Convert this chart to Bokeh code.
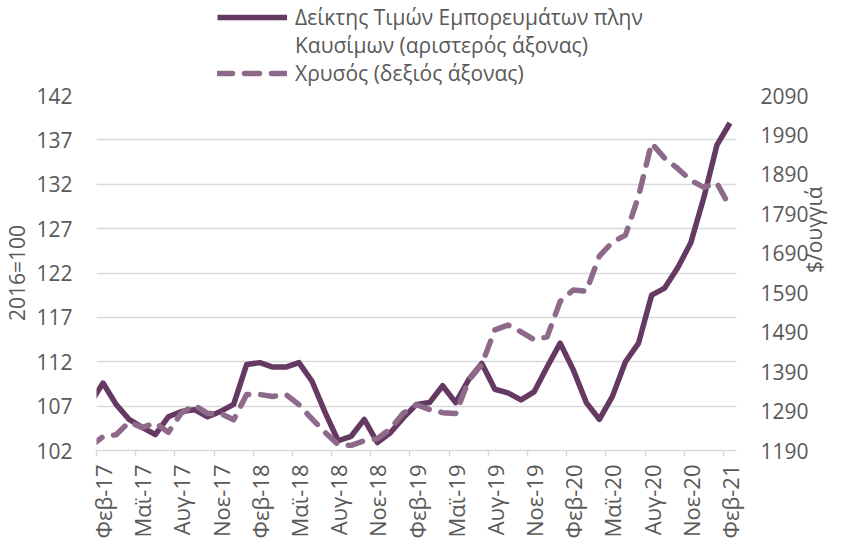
import math
from bokeh.plotting import figure
from bokeh.layouts import column
from bokeh.models import Range1d, LinearAxis, FixedTicker, Legend, LegendItem
from bokeh.embed import file_html
from bokeh.resources import INLINE

# ---- data ----
month_names = ["Ιαν", "Φεβ", "Μαρ", "Απρ", "Μαϊ", "Ιουν", "Ιουλ", "Αυγ", "Σεπ", "Οκτ", "Νοε", "Δεκ"]
years = ["17", "18", "19", "20", "21"]
months = [f"{m}-{y}" for y in years for m in month_names][:50]  # Ιαν-17 .. Φεβ-21

commodity_index = [
    107.3, 109.6, 107.2, 105.5, 104.6, 103.8, 105.8, 106.4, 106.6, 105.8, 106.4, 107.2,
    111.7, 111.9, 111.4, 111.4, 111.9, 109.8, 106.3, 103.1, 103.6, 105.5, 102.9, 104.0,
    105.7, 107.2, 107.4, 109.3, 107.4, 110.0, 111.8, 108.9, 108.5, 107.7, 108.6, 111.4,
    114.1, 111.1, 107.4, 105.5, 108.1, 112.0, 114.1, 119.5, 120.3, 122.6, 125.4, 130.5,
    136.4, 138.9,
]
gold = [
    1200, 1225, 1230, 1262, 1248, 1260, 1236, 1285, 1305, 1284, 1284, 1268,
    1332, 1332, 1327, 1332, 1306, 1270, 1236, 1205, 1203, 1215, 1220, 1245,
    1285, 1306, 1294, 1286, 1284, 1368, 1408, 1496, 1508, 1491, 1471, 1478,
    1568, 1597, 1594, 1683, 1718, 1736, 1835, 1969, 1931, 1905, 1875, 1857,
    1868, 1807,
]
left_ticks = [102, 107, 112, 117, 122, 127, 132, 137, 142]
right_ticks = [1190, 1290, 1390, 1490, 1590, 1690, 1790, 1890, 1990, 2090]

left_title = "2016=100"
right_title = "$/ουγγιά"
label_solid_1 = "Δείκτης Τιμών Εμπορευμάτων πλην"
label_solid_2 = "Καυσίμων (αριστερός άξονας)"
label_gold = "Χρυσός (δεξιός άξονας)"

# ---- styles ----
FONT = "Open Sans"
TXT = "#595959"
GRID = "#D9D9D9"
SOLID_C = "#643A62"
DASH_C = "#8D6A89"
solid_style = dict(line_color=SOLID_C, line_width=5.5, line_join="round")
gold_style = dict(line_color=DASH_C, line_width=5.5, line_dash="15 12",
                  line_cap="round", line_join="round")

# ---- main chart ----
x = list(range(len(months)))
p = figure(width=846, height=454,
           x_range=Range1d(0.5, len(months) - 0.5),
           y_range=Range1d(left_ticks[0], left_ticks[-1]),
           output_backend="svg", toolbar_location=None,
           min_border_left=94, min_border_right=110,
           min_border_top=8, min_border_bottom=90)
p.outline_line_color = None
p.extra_y_ranges = {"gold": Range1d(right_ticks[0], right_ticks[-1])}

p.line(x, commodity_index, **solid_style)
p.line(x, gold, y_range_name="gold", **gold_style)

xa = p.xaxis[0]
major = list(range(1, len(months), 3))
xa.ticker = FixedTicker(ticks=major, minor_ticks=[t - 0.5 for t in major])
xa.major_label_overrides = {t: months[t] for t in major}
xa.major_label_orientation = math.pi / 2
xa.major_tick_out = 0
xa.major_tick_in = 0
xa.minor_tick_out = 6
xa.minor_tick_in = 0
xa.minor_tick_line_color = GRID
xa.minor_tick_line_width = 1.5
xa.axis_line_color = GRID
xa.axis_line_width = 1.5
xa.major_label_standoff = 8
xa.major_label_text_font = FONT
xa.major_label_text_font_size = "22px"
xa.major_label_text_color = TXT

ya = p.yaxis[0]
ya.ticker = FixedTicker(ticks=left_ticks)
ya.axis_label = left_title
yr = LinearAxis(y_range_name="gold", ticker=FixedTicker(ticks=right_ticks), axis_label=right_title)
p.add_layout(yr, "right")
if "axis_label_orientation" in yr.properties():
    yr.axis_label_orientation = math.pi / 2

for ax in (ya, yr):
    ax.axis_line_color = None
    ax.major_tick_out = 0
    ax.major_tick_in = 0
    ax.minor_tick_out = 0
    ax.minor_tick_in = 0
    ax.major_label_standoff = 24
    ax.major_label_text_font = FONT
    ax.major_label_text_font_size = "21px"
    ax.major_label_text_color = TXT
    ax.axis_label_text_font = FONT
    ax.axis_label_text_font_size = "21px"
    ax.axis_label_text_font_style = "normal"
    ax.axis_label_text_color = TXT
    ax.axis_label_standoff = 2

p.xgrid.grid_line_color = None
p.ygrid.ticker = FixedTicker(ticks=left_ticks)
p.ygrid.grid_line_color = GRID
p.ygrid.grid_line_width = 1.5

# ---- legend strip above the chart (its frame is aligned with the chart's frame) ----
lf = figure(width=846, height=87, x_range=Range1d(0, 1), y_range=Range1d(0, 1),
            output_backend="svg", toolbar_location=None,
            x_axis_location=None, y_axis_location=None,
            min_border_left=0, min_border_right=0, min_border_top=0, min_border_bottom=0)
lf.outline_line_color = None
lf.grid.visible = False
# renderers that only supply legend glyph styles (their data lies outside the visible range)
g_solid = lf.line([2, 3], [2, 2], **solid_style)
g_blank = lf.line([2, 3], [2, 2], line_alpha=0)
g_gold = lf.line([2, 3], [2, 2], **gold_style)

legend = Legend(items=[LegendItem(label=label_solid_1, renderers=[g_solid]),
                       LegendItem(label=label_solid_2, renderers=[g_blank]),
                       LegendItem(label=label_gold, renderers=[g_gold])],
                location=(121, 0), orientation="vertical",
                label_text_font=FONT, label_text_font_size="21px", label_text_color=TXT,
                glyph_width=70, glyph_height=20, label_height=26, spacing=0,
                label_standoff=8, padding=0, margin=0,
                border_line_color=None, background_fill_alpha=0)
lf.add_layout(legend, "center")

layout = column(lf, p, spacing=0)
open("out.html", "w").write(file_html(layout, INLINE))
